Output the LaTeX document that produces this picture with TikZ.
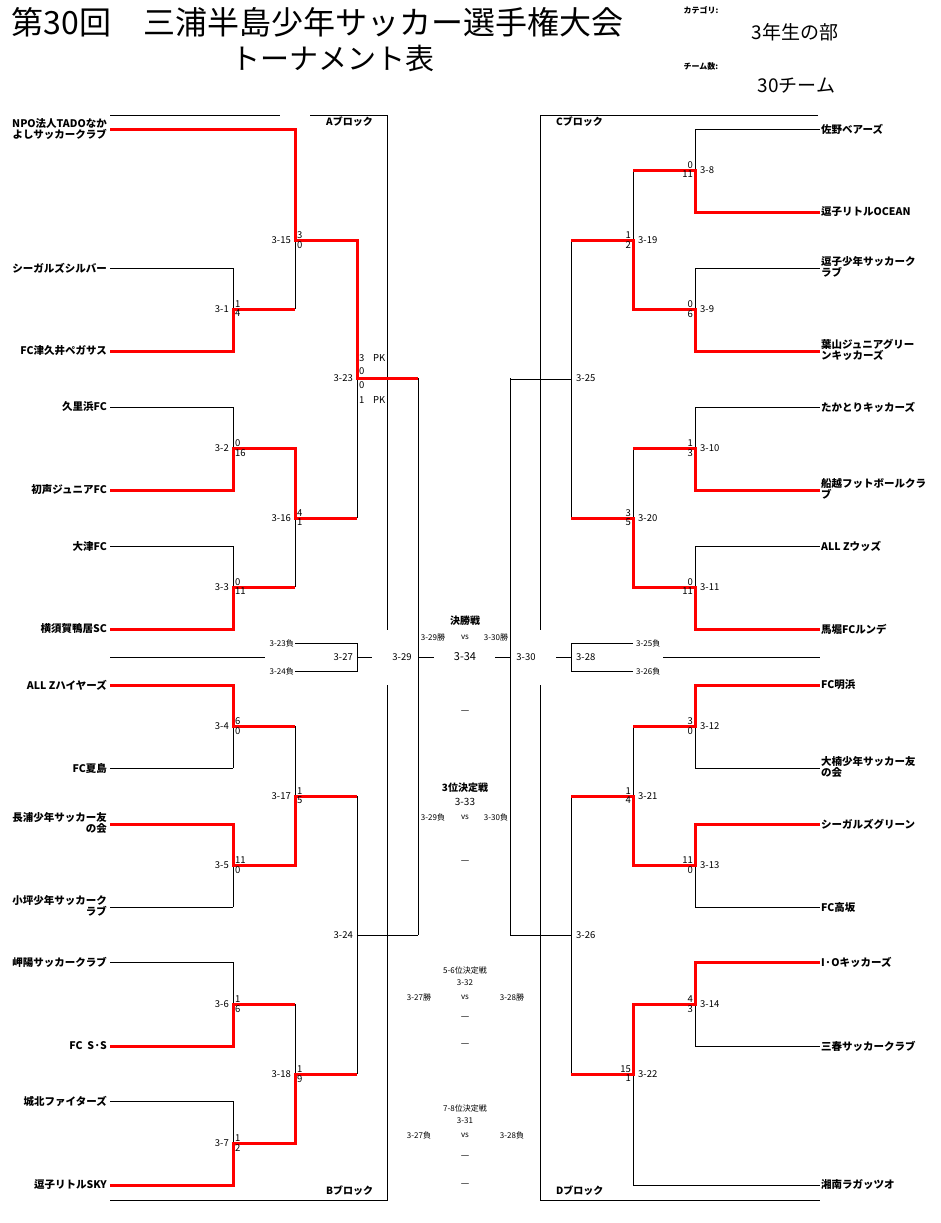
\documentclass[tikz,border=0pt]{standalone}
\usepackage{fontspec}
\setmainfont{Noto Sans CJK JP}
\begin{document}
\begin{tikzpicture}[x=1pt,y=-1pt,
 bl/.style={line width=0.8pt},
 rd/.style={red,line width=3pt,line join=miter},
 tm/.style={font=\bfseries\fontsize{10.5}{11}\selectfont,inner sep=1pt,align=left},
 tmr/.style={font=\bfseries\fontsize{10.5}{11}\selectfont,inner sep=1pt,align=right},
 lb/.style={font=\fontsize{9.5}{10.5}\selectfont,inner sep=1pt},
 hd/.style={font=\bfseries\fontsize{10}{11}\selectfont,inner sep=1pt},
 sm/.style={font=\fontsize{8}{9}\selectfont,inner sep=1pt}]
\useasboundingbox (0,0) rectangle (941,1223);
\newcommand\BR[4]{\pgfmathsetmacro\mY{(#3+#4)/2}\draw[bl] (#1,#3)--(#1,#4) (#1,\mY)--(#2,\mY);}
\newcommand\LL[5]{\node[lb,anchor=east] at (#1-3,#2) {#3};\node[lb,anchor=south west] at (#1+1,#2) {#4};\node[lb,anchor=north west] at (#1+1,#2) {#5};}
\newcommand\RL[5]{\node[lb,anchor=west] at (#1+4,#2) {#3};\node[lb,anchor=south east] at (#1-1,#2) {#4};\node[lb,anchor=north east] at (#1-1,#2) {#5};}
% header
\node[anchor=west,font=\fontsize{32}{34}\selectfont] at (8,22) {第30回　三浦半島少年サッカー選手権大会};
\node[font=\fontsize{29}{31}\selectfont] at (333,58) {トーナメント表};
\node[anchor=west,font=\bfseries\fontsize{8}{9}\selectfont] at (680,10) {カテゴリ:};
\node[anchor=west,font=\fontsize{19}{21}\selectfont] at (748,32) {3年生の部};
\node[anchor=west,font=\bfseries\fontsize{8}{9}\selectfont] at (680,66) {チーム数:};
\node[anchor=west,font=\fontsize{19}{21}\selectfont] at (754,86) {30チーム};
% block frames
\draw[bl] (110,115)--(280,115) (310,115)--(387,115)--(387,630) (387,685)--(387,1200)--(110,1200);
\draw[bl] (818,115)--(540,115)--(540,630) (540,685)--(540,1200)--(820,1200);
\node[hd,anchor=west] at (325,122) {Aブロック};
\node[hd,anchor=west] at (555,122) {Cブロック};
\node[hd,anchor=west] at (325,1191) {Bブロック};
\node[hd,anchor=west] at (555,1191) {Dブロック};
% left teams
\draw[bl] (110,129)--(295,129);
\foreach \y in {268,351,407,490,546,629,685,768,824,907,962,1046,1101,1185} {\draw[bl] (110,\y)--(233,\y);}
\node[tmr,anchor=north east] at (108,117) {NPO法人TADOなか\\よしサッカークラブ};
\node[tmr,anchor=east] at (108,268) {シーガルズシルバー};
\node[tmr,anchor=east] at (108,351) {FC津久井ペガサス};
\node[tmr,anchor=east] at (108,407) {久里浜FC};
\node[tmr,anchor=east] at (108,490) {初声ジュニアFC};
\node[tmr,anchor=east] at (108,546) {大津FC};
\node[tmr,anchor=east] at (108,629) {横須賀鴨居SC};
\node[tmr,anchor=east] at (108,685) {ALL Zハイヤーズ};
\node[tmr,anchor=east] at (108,768) {FC夏島};
\node[tmr,anchor=north east] at (108,811) {長浦少年サッカー友\\の会};
\node[tmr,anchor=north east] at (108,894) {小坪少年サッカーク\\ラブ};
\node[tmr,anchor=east] at (108,962) {岬陽サッカークラブ};
\node[tmr,anchor=east] at (108,1046) {FC\ \ S·S};
\node[tmr,anchor=east] at (108,1101) {城北ファイターズ};
\node[tmr,anchor=east] at (108,1185) {逗子リトルSKY};
% right teams
\draw[bl] (633,1185)--(820,1185);
\foreach \y in {129,212,268,351,407,490,546,629,685,768,824,907,962,1046} {\draw[bl] (695,\y)--(820,\y);}
\node[tm,anchor=west] at (820,129) {佐野ベアーズ};
\node[tm,anchor=west] at (820,212) {逗子リトルOCEAN};
\node[tm,anchor=north west] at (820,255) {逗子少年サッカーク\\ラブ};
\node[tm,anchor=north west] at (820,338) {葉山ジュニアグリー\\ンキッカーズ};
\node[tm,anchor=west] at (820,407) {たかとりキッカーズ};
\node[tm,anchor=north west] at (820,477) {船越フットボールクラ\\ブ};
\node[tm,anchor=west] at (820,546) {ALL Zウッズ};
\node[tm,anchor=west] at (820,629) {馬堀FCルンデ};
\node[tm,anchor=west] at (820,685) {FC明浜};
\node[tm,anchor=north west] at (820,755) {大楠少年サッカー友\\の会};
\node[tm,anchor=west] at (820,824) {シーガルズグリーン};
\node[tm,anchor=west] at (820,907) {FC高坂};
\node[tm,anchor=west] at (820,962) {I·Oキッカーズ};
\node[tm,anchor=west] at (820,1046) {三春サッカークラブ};
\node[tm,anchor=west] at (820,1185) {湘南ラガッツオ};
% left brackets
\BR{233}{295}{268}{351}\BR{233}{295}{407}{490}\BR{233}{295}{546}{629}\BR{233}{295}{685}{768}
\BR{233}{295}{824}{907}\BR{233}{295}{962}{1046}\BR{233}{295}{1101}{1185}
\draw[bl] (295,129)--(295,309) (295,240)--(357,240);
\BR{295}{357}{448}{587}\BR{295}{357}{726}{865}\BR{295}{357}{1004}{1143}
\BR{357}{418}{240}{518}\BR{357}{418}{796}{1074}
\draw[bl] (418,378)--(418,935);
% right brackets
\BR{695}{633}{129}{212}\BR{695}{633}{268}{351}\BR{695}{633}{407}{490}\BR{695}{633}{546}{629}
\BR{695}{633}{685}{768}\BR{695}{633}{824}{907}\BR{695}{633}{962}{1046}
\BR{633}{571}{170}{309}\BR{633}{571}{448}{587}\BR{633}{571}{726}{865}
\draw[bl] (633,1004)--(633,1185) (633,1074)--(571,1074);
\BR{571}{510}{240}{518}\BR{571}{510}{796}{1074}
\draw[bl] (510,378)--(510,935);
% red paths
\draw[rd] (110,129)--(295,129)--(295,240)--(357,240)--(357,378)--(418,378);
\draw[rd] (110,351)--(233,351)--(233,309)--(295,309);
\draw[rd] (110,490)--(233,490)--(233,448)--(295,448)--(295,518)--(357,518);
\draw[rd] (110,629)--(233,629)--(233,587)--(295,587);
\draw[rd] (110,685)--(233,685)--(233,726)--(295,726);
\draw[rd] (110,824)--(233,824)--(233,865)--(295,865)--(295,796)--(357,796);
\draw[rd] (110,1046)--(233,1046)--(233,1004)--(295,1004);
\draw[rd] (110,1185)--(233,1185)--(233,1143)--(295,1143)--(295,1074)--(357,1074);
\draw[rd] (820,212)--(695,212)--(695,170)--(633,170);
\draw[rd] (820,351)--(695,351)--(695,309)--(633,309)--(633,240)--(571,240);
\draw[rd] (820,490)--(695,490)--(695,448)--(633,448);
\draw[rd] (820,629)--(695,629)--(695,587)--(633,587)--(633,518)--(571,518);
\draw[rd] (820,685)--(695,685)--(695,726)--(633,726);
\draw[rd] (820,824)--(695,824)--(695,865)--(633,865)--(633,796)--(571,796);
\draw[rd] (820,962)--(695,962)--(695,1004)--(633,1004)--(633,1074)--(571,1074);
% left labels
\LL{233}{309}{3-1}{1}{4}\LL{233}{448}{3-2}{0}{16}\LL{233}{587}{3-3}{0}{11}
\LL{233}{726}{3-4}{6}{0}\LL{233}{865}{3-5}{11}{0}\LL{233}{1004}{3-6}{1}{6}\LL{233}{1143}{3-7}{1}{2}
\LL{295}{240}{3-15}{3}{0}\LL{295}{518}{3-16}{4}{1}\LL{295}{796}{3-17}{1}{5}\LL{295}{1074}{3-18}{1}{9}
\node[lb,anchor=east] at (354,378) {3-23};
\node[lb,anchor=west] at (358,358) {3};\node[lb,anchor=west] at (358,371) {0};
\node[lb,anchor=west] at (358,385) {0};\node[lb,anchor=west] at (358,400) {1};
\node[lb,anchor=west] at (372,358) {PK};\node[lb,anchor=west] at (372,400) {PK};
\node[lb,anchor=east] at (354,935) {3-24};
% right labels
\RL{695}{170}{3-8}{0}{11}\RL{695}{309}{3-9}{0}{6}\RL{695}{448}{3-10}{1}{3}\RL{695}{587}{3-11}{0}{11}
\RL{695}{726}{3-12}{3}{0}\RL{695}{865}{3-13}{11}{0}\RL{695}{1004}{3-14}{4}{3}
\RL{633}{240}{3-19}{1}{2}\RL{633}{518}{3-20}{3}{5}\RL{633}{796}{3-21}{1}{4}\RL{633}{1074}{3-22}{15}{1}
\node[lb,anchor=west] at (575,378) {3-25};
\node[lb,anchor=west] at (575,935) {3-26};
% center row
\draw[bl] (110,657)--(265,657);
\draw[bl] (295,643)--(357,643)--(357,671)--(295,671) (357,657)--(372,657);
\node[sm,anchor=east] at (295,643) {3-23負};\node[sm,anchor=east] at (295,671) {3-24負};
\node[lb,anchor=east] at (354,657) {3-27};
\node[lb] at (402,657) {3-29};
\draw[bl] (418,657)--(434,657) (495,657)--(510,657);
\node[font=\fontsize{11}{12}\selectfont] at (465,657) {3-34};
\node[lb] at (526,657) {3-30};
\draw[bl] (556,657)--(571,657);
\draw[bl] (633,643)--(571,643)--(571,671)--(633,671);
\node[lb,anchor=west] at (575,657) {3-28};
\node[sm,anchor=west] at (635,643) {3-25負};\node[sm,anchor=west] at (635,671) {3-26負};
\draw[bl] (663,657)--(820,657);
% center texts
\node[hd] at (465,621) {決勝戦};
\node[sm] at (433,637) {3-29勝};\node[sm] at (465,637) {vs};\node[sm] at (496,637) {3-30勝};
\node[lb] at (465,712) {—};
\node[hd] at (465,788) {3位決定戦};
\node[font=\fontsize{10}{11}\selectfont] at (465,802) {3-33};
\node[sm] at (433,817) {3-29負};\node[sm] at (465,817) {vs};\node[sm] at (496,817) {3-30負};
\node[lb] at (465,862) {—};
\node[sm] at (465,970) {5-6位決定戦};
\node[sm] at (465,983) {3-32};
\node[sm] at (419,997) {3-27勝};\node[sm] at (465,997) {vs};\node[sm] at (512,997) {3-28勝};
\node[lb] at (465,1018) {—};\node[lb] at (465,1045) {—};
\node[sm] at (465,1108) {7-8位決定戦};
\node[sm] at (465,1121) {3-31};
\node[sm] at (419,1135) {3-27負};\node[sm] at (465,1135) {vs};\node[sm] at (512,1135) {3-28負};
\node[lb] at (465,1157) {—};\node[lb] at (465,1185) {—};
\end{tikzpicture}
\end{document}
